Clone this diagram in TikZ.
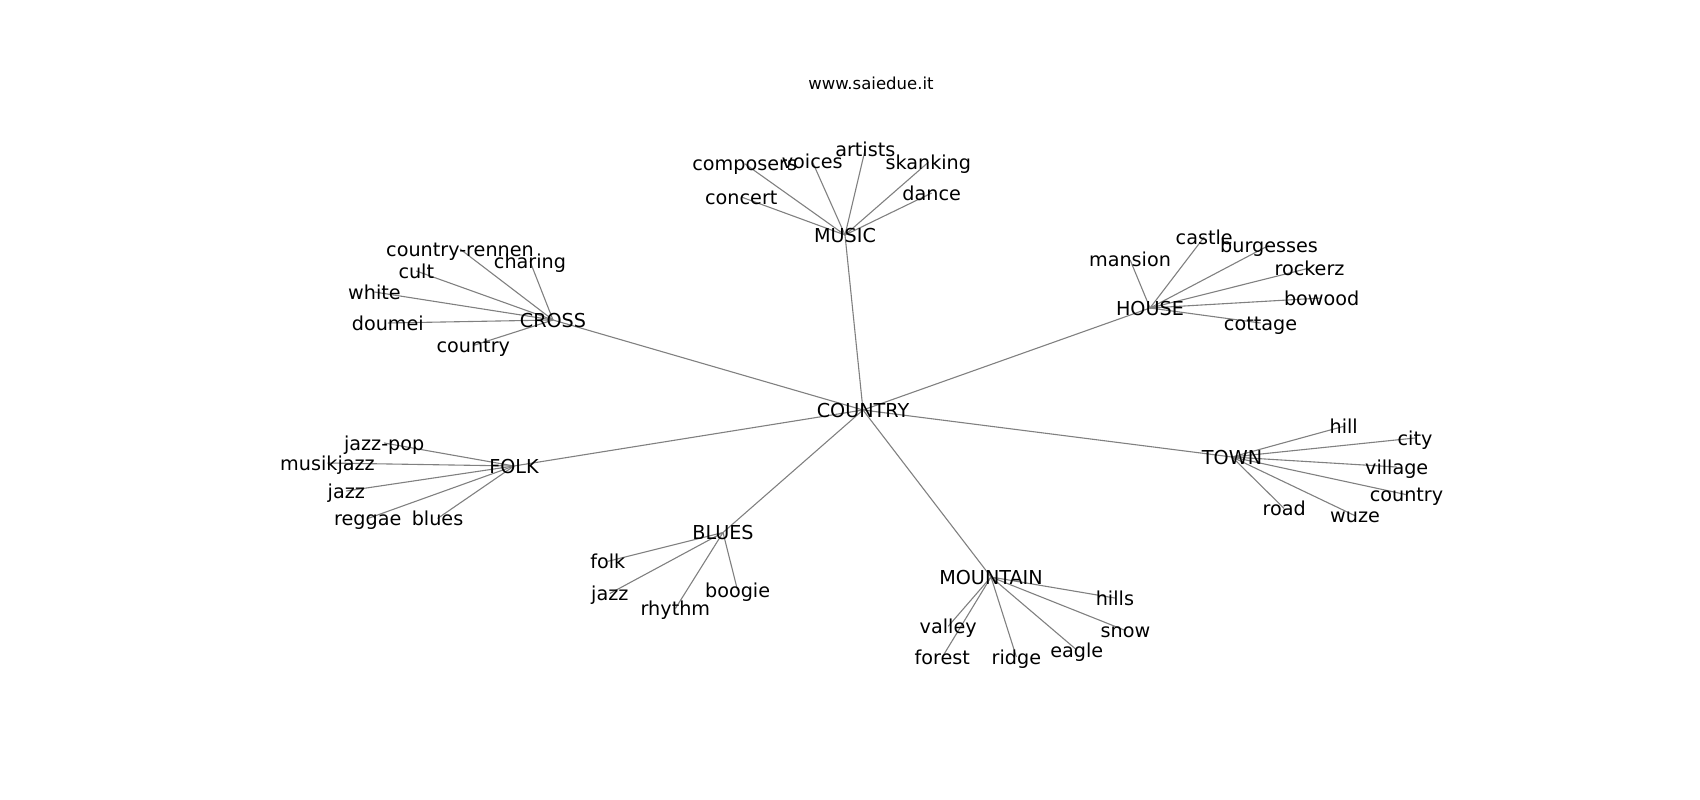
\documentclass[tikz,border=0pt]{standalone}
\usepackage{fontspec}
\setmainfont{DejaVu Sans}
\usetikzlibrary{backgrounds}

\begin{document}
\begin{tikzpicture}[x=1pt,y=-1pt,
    word/.style={inner sep=0pt,text height=14pt,text depth=0pt,font=\fontsize{19.2}{23}\selectfont},
    link/.style={draw=black!50,line width=1.1pt}]
    \useasboundingbox (0,0) rectangle (1700,800);
    \node[inner sep=0pt,text height=12pt,text depth=0pt,font=\fontsize{16.5}{20}\selectfont] (title) at (871,83.5) {www.saiedue.it};
    % hubs
    \node[word] (country)  at (863,410)  {COUNTRY};
    \node[word] (music)    at (845,235)  {MUSIC};
    \node[word] (cross)    at (553,320)  {CROSS};
    \node[word] (house)    at (1150,308) {HOUSE};
    \node[word] (folk)     at (514,466)  {FOLK};
    \node[word] (town)     at (1232,457) {TOWN};
    \node[word] (blues)    at (723,532.5)  {BLUES};
    \node[word] (mountain) at (991,577)  {MOUNTAIN};
    % music
    \node[word] (mu_1) at (744.7,163.7) {composers};
    \node[word] (mu_2) at (812.2,161.3) {voices};
    \node[word] (mu_3) at (865.3,149)   {artists};
    \node[word] (mu_4) at (928.3,162.3) {skanking};
    \node[word] (mu_5) at (741.3,197)   {concert};
    \node[word] (mu_6) at (931.7,193)   {dance};
    % cross
    \node[word] (cr_1) at (460,249)     {country-rennen};
    \node[word] (cr_2) at (530,261.3)   {charing};
    \node[word] (cr_3) at (416.3,271)   {cult};
    \node[word] (cr_4) at (374.5,292)   {white};
    \node[word] (cr_5) at (387.8,323)   {doumei};
    \node[word] (cr_6) at (473.3,345.5) {country};
    % folk
    \node[word] (fo_1) at (384.2,443)   {jazz-pop};
    \node[word] (fo_2) at (327.5,463)   {musikjazz};
    \node[word] (fo_3) at (346.3,491)   {jazz};
    \node[word] (fo_4) at (367.8,518.5) {reggae};
    \node[word] (fo_5) at (437.5,518.5) {blues};
    % house
    \node[word] (ho_1) at (1204.2,237)   {castle};
    \node[word] (ho_2) at (1269,245.3)   {burgesses};
    \node[word] (ho_3) at (1130,259.7)   {mansion};
    \node[word] (ho_4) at (1309.5,268)   {rockerz};
    \node[word] (ho_5) at (1321.7,298)   {bowood};
    \node[word] (ho_6) at (1260.5,323)   {cottage};
    % town
    \node[word] (to_1) at (1343.7,426.3) {hill};
    \node[word] (to_2) at (1415,438)     {city};
    \node[word] (to_3) at (1396.7,467)   {village};
    \node[word] (to_4) at (1406.5,494.7) {country};
    \node[word] (to_5) at (1284.2,508.5) {road};
    \node[word] (to_6) at (1355,515.7)   {wuze};
    % blues
    \node[word] (bl_1) at (607.8,561.3) {folk};
    \node[word] (bl_2) at (609.8,593.5) {jazz};
    \node[word] (bl_3) at (675.4,608.5) {rhythm};
    \node[word] (bl_4) at (737.6,590.5) {boogie};
    % mountain
    \node[word] (mo_1) at (1114.9,598)   {hills};
    \node[word] (mo_2) at (948.2,626.3)  {valley};
    \node[word] (mo_3) at (1125.4,630.5) {snow};
    \node[word] (mo_4) at (942.3,657)    {forest};
    \node[word] (mo_5) at (1016.4,657)   {ridge};
    \node[word] (mo_6) at (1076.8,650)   {eagle};
    \begin{scope}[on background layer]
        \foreach \hub in {music,cross,house,folk,town,blues,mountain}
            \path[link] (country.center) edge (\hub.center);
        \foreach \i in {1,...,6} {
            \path[link] (music.center) edge (mu_\i.center);
            \path[link] (cross.center) edge (cr_\i.center);
            \path[link] (house.center) edge (ho_\i.center);
            \path[link] (town.center) edge (to_\i.center);
            \path[link] (mountain.center) edge (mo_\i.center);
        }
        \foreach \i in {1,...,5}
            \path[link] (folk.center) edge (fo_\i.center);
        \foreach \i in {1,...,4}
            \path[link] (blues.center) edge (bl_\i.center);
    \end{scope}
\end{tikzpicture}
\end{document}
